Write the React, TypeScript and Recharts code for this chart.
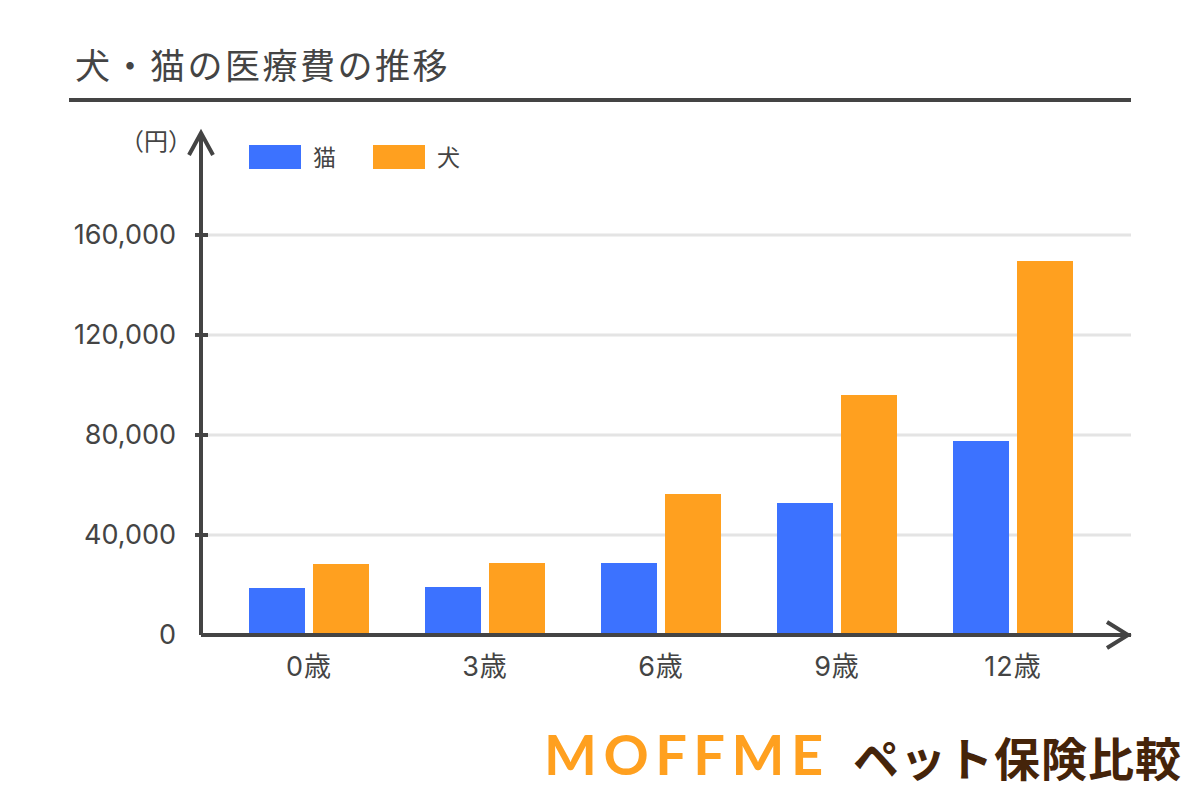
import React from 'react';
import { BarChart, Bar, XAxis, YAxis, CartesianGrid, Legend } from 'recharts';

const ages = ['0歳', '3歳', '6歳', '9歳', '12歳'];
const catCosts = [18800, 19200, 28800, 52800, 77600];
const dogCosts = [28400, 28800, 56400, 96000, 149600];
const yTicks = [0, 40000, 80000, 120000, 160000];

const data = ages.map((age, i) => ({ age, cat: catCosts[i], dog: dogCosts[i] }));

const FONT = '"Noto Sans CJK JP", "Noto Sans", sans-serif';
const TICK_FONT = 'Inter, "Noto Sans CJK JP", sans-serif';
const DARK = '#444444';
const BLUE = '#3c72ff';
const ORANGE = '#ffa01f';

function YTick({ y, payload }: any) {
  return (
    <g>
      {payload.value !== 0 && <line x1={195} x2={208} y1={y} y2={y} stroke={DARK} strokeWidth={4} />}
      <text x={176} y={y + 9} textAnchor="end" fontSize={27} fontFamily={TICK_FONT} fill={DARK}>
        {payload.value.toLocaleString('en-US')}
      </text>
    </g>
  );
}

function XTick({ x, y, payload }: any) {
  return (
    <text x={x} y={y + 33} textAnchor="middle" fontSize={27} letterSpacing={1} fontFamily={TICK_FONT} fill={DARK}>
      {payload.value}
    </text>
  );
}

function ChartLegend({ payload }: any) {
  return (
    <div style={{ display: 'flex', fontFamily: FONT, fontSize: 23, color: DARK }}>
      {(payload || []).map((p: any) => (
        <div key={p.value} style={{ display: 'flex', alignItems: 'center', width: 124 }}>
          <span style={{ width: 52, height: 24, background: p.color, marginRight: 12 }} />
          <span style={{ position: 'relative', top: -1 }}>{p.value}</span>
        </div>
      ))}
    </div>
  );
}

export default function App() {
  return (
    <div style={{ position: 'absolute', left: 0, top: 0, width: 1200, height: 800, background: '#fff' }}>
      <BarChart
        width={1200}
        height={800}
        data={data}
        margin={{ top: 135, right: 69, bottom: 105, left: 0 }}
        barSize={56}
        barGap={8}
      >
        <CartesianGrid
          horizontal
          vertical={false}
          syncWithTicks
          horizontalValues={yTicks.slice(1)}
          stroke="#e4e4e4"
          strokeWidth={3}
        />
        <XAxis
          dataKey="age"
          height={60}
          padding={{ left: 20, right: 30 }}
          tickLine={false}
          axisLine={{ stroke: DARK, strokeWidth: 4 }}
          tick={<XTick />}
        />
        <YAxis
          width={201}
          domain={[0, 200000]}
          ticks={yTicks}
          tickLine={false}
          axisLine={{ stroke: DARK, strokeWidth: 4 }}
          tick={<YTick />}
        />
        <Legend
          content={<ChartLegend />}
          layout="vertical"
          align="center"
          verticalAlign="middle"
          itemSorter={null}
          wrapperStyle={{ position: 'absolute', left: 249, top: 140, width: 300, height: 32 }}
        />
        <Bar dataKey="cat" name="猫" fill={BLUE} isAnimationActive={false} />
        <Bar dataKey="dog" name="犬" fill={ORANGE} isAnimationActive={false} />

        <text x={75} y={79} fontSize={35} fontFamily={FONT} fill={DARK} letterSpacing={2.5}>犬・猫の医療費の推移</text>
        <line x1={69} x2={1131} y1={100} y2={100} stroke={DARK} strokeWidth={4} />
        <text x={192} y={150} textAnchor="end" fontSize={24} fontFamily={FONT} fill={DARK}>（円）</text>
        <path d="M189 155 L201 133 L213 155" fill="none" stroke={DARK} strokeWidth={4} />
        <path d="M1107 622 L1128 635 L1107 648" fill="none" stroke={DARK} strokeWidth={4} />
        <text x={544} y={775} fontSize={56} fontWeight={700} fontFamily="Lato, sans-serif" fill={ORANGE} letterSpacing={6.5}>MOFFME</text>
        <text x={853} y={776} fontSize={46} fontWeight={700} fontFamily={FONT} fill="#45240a" letterSpacing={1}>ペット保険比較</text>
      </BarChart>
    </div>
  );
}
